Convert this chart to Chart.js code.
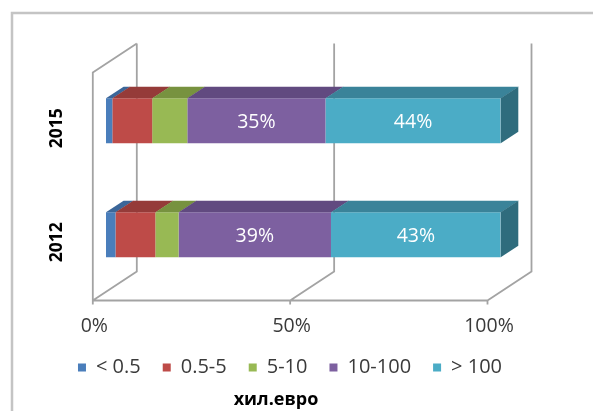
<!DOCTYPE html>
<html>
<head>
<meta charset="utf-8">
<script src="https://cdn.jsdelivr.net/npm/chart.js@4.4.1/dist/chart.umd.min.js"></script>
<style>
  html, body { margin: 0; padding: 0; background: #ffffff; }
  #wrap { width: 593px; height: 411px; position: relative; }
</style>
</head>
<body>
<div id="wrap"><canvas id="chart" width="593" height="411"></canvas></div>
<script>
// Categories (top to bottom) and the share of each size class, in percent
const categories = ['2015', '2012'];
const seriesNames = ['< 0.5', '0.5-5', '5-10', '10-100', '> 100'];
const lessThan05 = [1.6, 2.4];
const from05to5 = [10.1, 10.1];
const from5to10 = [8.9, 5.9];
const from10to100 = [35.0, 38.6];
const over100 = [44.4, 43.0];
const seriesValues = [lessThan05, from05to5, from5to10, from10to100, over100];
// Series whose segments carry a value label
const labelledSeries = [false, false, false, true, true];

// Value axis ticks
const tickValues = [0, 50, 100];
const tickLabels = ['0%', '50%', '100%'];
const axisTitle = 'хил.евро';

// Face colours: front, top, right side
const frontColors = ['#4A7EBB', '#BE4B48', '#98B954', '#7D60A0', '#4BACC6'];
const topColors   = ['#3B6699', '#953B39', '#77923F', '#614A80', '#3A8399'];
const sideColors  = ['#2F5580', '#7A2F2D', '#5F7532', '#4D3B66', '#2F6C7D'];

// Oblique projection: offsets of the front plane, back plane and bar depth
const FRONT = { dx: -13.2, dy: 8.7 };
const BACK = { dx: 30.8, dy: -20.3 };
const BAR_DEPTH = { dx: 17.6, dy: -11.6 };

const FONT = '"Open Sans", "DejaVu Sans", sans-serif';
const TEXT_COLOR = '#3A3A3A';

const threeD = {
  id: 'threeD',
  beforeDatasetsDraw(chart) {
    const { ctx, chartArea: a } = chart;
    const xs = chart.scales.x;
    const ys = chart.scales.y;
    ctx.save();

    // outer chart border
    ctx.strokeStyle = '#C4C4C4';
    ctx.lineWidth = 2.5;
    ctx.beginPath();
    ctx.moveTo(12, 420);
    ctx.lineTo(12, 13);
    ctx.lineTo(600, 13);
    ctx.stroke();

    // walls, floor and gridlines
    const topB = a.top + BACK.dy, botB = a.bottom + BACK.dy;
    const topF = a.top + FRONT.dy, botF = a.bottom + FRONT.dy;
    const x0 = xs.getPixelForValue(0);
    const x100 = xs.getPixelForValue(100);
    ctx.strokeStyle = '#A3A3A3';
    ctx.lineWidth = 1.8;
    ctx.lineJoin = 'miter';
    ctx.beginPath();
    tickValues.forEach(v => {
      const px = xs.getPixelForValue(v);
      ctx.moveTo(px + BACK.dx, topB);
      ctx.lineTo(px + BACK.dx, botB);
      ctx.lineTo(px + FRONT.dx, botF);
      ctx.lineTo(px + FRONT.dx, botF + 4);
    });
    ctx.moveTo(x0 + FRONT.dx, botF);
    ctx.lineTo(x100 + FRONT.dx, botF);
    ctx.moveTo(x0 + BACK.dx, topB);
    ctx.lineTo(x0 + FRONT.dx, topF);
    ctx.lineTo(x0 + FRONT.dx, botF);
    ctx.stroke();

    // value axis tick labels
    ctx.fillStyle = TEXT_COLOR;
    ctx.font = '19.5px ' + FONT;
    ctx.textAlign = 'center';
    ctx.textBaseline = 'middle';
    tickValues.forEach((v, i) => {
      ctx.fillText(tickLabels[i], xs.getPixelForValue(v) + FRONT.dx + 1.5, botF + 25.5);
    });

    // category labels, rotated
    ctx.fillStyle = '#000000';
    ctx.font = 'bold 17.5px ' + FONT;
    categories.forEach((c, i) => {
      const cy = ys.getPixelForValue(i) + 7.5;
      ctx.save();
      ctx.translate(56, cy);
      ctx.rotate(-Math.PI / 2);
      ctx.fillText(c, 0, 1);
      ctx.restore();
    });

    // axis title
    ctx.font = 'bold 18px ' + FONT;
    ctx.fillText(axisTitle, 276, 400);
    ctx.restore();
  },
  afterDatasetsDraw(chart) {
    const { ctx } = chart;
    const last = chart.data.datasets.length - 1;
    ctx.save();
    chart.data.datasets.forEach((ds, di) => {
      const meta = chart.getDatasetMeta(di);
      meta.data.forEach(bar => {
        const p = bar.getProps(['x', 'y', 'base', 'height'], true);
        const left = Math.min(p.base, p.x), right = Math.max(p.base, p.x);
        const top = p.y - p.height / 2, bottom = p.y + p.height / 2;
        // top face
        ctx.fillStyle = topColors[di];
        ctx.beginPath();
        ctx.moveTo(left, top);
        ctx.lineTo(right + 0.4, top);
        ctx.lineTo(right + 0.4 + BAR_DEPTH.dx, top + BAR_DEPTH.dy);
        ctx.lineTo(left + BAR_DEPTH.dx, top + BAR_DEPTH.dy);
        ctx.closePath();
        ctx.fill();
        // right side face of the stack
        if (di === last) {
          ctx.fillStyle = sideColors[di];
          ctx.beginPath();
          ctx.moveTo(right, top);
          ctx.lineTo(right + BAR_DEPTH.dx, top + BAR_DEPTH.dy);
          ctx.lineTo(right + BAR_DEPTH.dx, bottom + BAR_DEPTH.dy);
          ctx.lineTo(right, bottom);
          ctx.closePath();
          ctx.fill();
        }
      });
    });

    // value labels
    ctx.fillStyle = '#FFFFFF';
    ctx.font = '19.5px ' + FONT;
    ctx.textAlign = 'center';
    ctx.textBaseline = 'middle';
    chart.data.datasets.forEach((ds, di) => {
      if (!labelledSeries[di]) return;
      const meta = chart.getDatasetMeta(di);
      meta.data.forEach((bar, i) => {
        const p = bar.getProps(['x', 'y', 'base'], true);
        ctx.fillText(Math.round(ds.data[i]) + '%', (p.x + p.base) / 2, p.y + 1.5);
      });
    });
    ctx.restore();
  }
};

new Chart(document.getElementById('chart'), {
  type: 'bar',
  data: {
    labels: categories,
    datasets: seriesNames.map((name, i) => ({
      label: name,
      data: seriesValues[i],
      backgroundColor: frontColors[i],
      borderWidth: 0,
      barPercentage: 0.395,
      categoryPercentage: 1
    }))
  },
  options: {
    indexAxis: 'y',
    responsive: false,
    devicePixelRatio: 1,
    animation: false,
    layout: { padding: { left: 0, right: 13, top: 63.8, bottom: 23.6 } },
    scales: {
      x: {
        stacked: true, min: 0, max: 100,
        grid: { display: false, drawTicks: false },
        border: { display: false },
        ticks: { display: false },
        afterFit: s => { s.height = 43.6; }
      },
      y: {
        stacked: true,
        grid: { display: false, drawTicks: false },
        border: { display: false },
        ticks: { display: false },
        afterFit: s => { s.width = 106; }
      },
      yRight: {
        type: 'category',
        position: 'right',
        grid: { display: false, drawTicks: false },
        border: { display: false },
        ticks: { display: false },
        afterFit: s => { s.width = 79.3; }
      }
    },
    plugins: {
      legend: {
        position: 'bottom',
        labels: {
          boxWidth: 8, boxHeight: 8, padding: 22,
          color: TEXT_COLOR,
          font: { family: FONT, size: 20 }
        }
      },
      tooltip: { enabled: false },
      title: { display: false }
    }
  },
  plugins: [threeD]
});
</script>
</body>
</html>
